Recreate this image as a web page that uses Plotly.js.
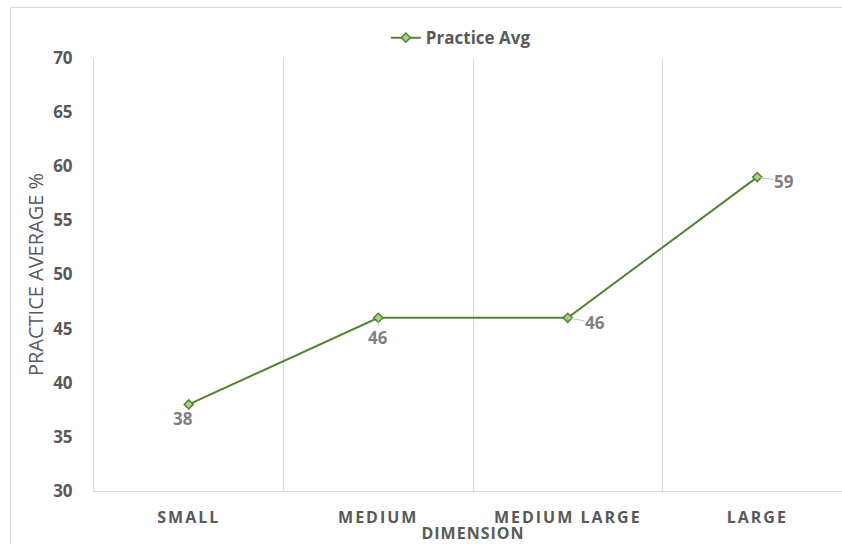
<!DOCTYPE html>
<html>
<head>
<meta charset="utf-8">
<script src="https://cdn.plot.ly/plotly-3.0.1.min.js"></script>
<style>
html,body{margin:0;padding:0;width:842px;height:544px;overflow:hidden;background:#fff;}
#frame{position:absolute;left:10px;top:7px;width:900px;height:600px;border:1px solid #d9d9d9;box-sizing:border-box;}
#chart{position:absolute;left:0;top:0;width:870px;height:544px;}
#chart .xtick text{letter-spacing:2px;}
#chart .g-xtitle text{letter-spacing:1px;}
</style>
</head>
<body>
<div id="frame"></div>
<div id="chart"></div>
<script>
const categories = ['SMALL', 'MEDIUM', 'MEDIUM LARGE', 'LARGE'];
const practiceAvg = [38, 46, 46, 59];
const seriesName = 'Practice Avg';

const trace = {
  x: categories,
  y: practiceAvg,
  name: seriesName,
  type: 'scatter',
  mode: 'lines+markers',
  line: {color: '#548235', width: 2},
  marker: {symbol: 'diamond', size: 7, color: '#a9d18e', line: {color: '#548235', width: 1.5}},
  cliponaxis: false,
  showlegend: true
};

// data label placement (style only): offsets in px
const labelStyle = [
  {ax: -6, ay: 14, arrow: false},
  {ax: 0, ay: 20, arrow: true},
  {ax: 27, ay: 5, arrow: true},
  {ax: 27, ay: 4, arrow: true}
];
const annotations = practiceAvg.map((v, i) => ({
  x: categories[i], y: v, xref: 'x', yref: 'y',
  text: String(v),
  showarrow: labelStyle[i].arrow,
  arrowhead: 0, arrowwidth: 1, arrowcolor: '#bfbfbf', standoff: 3,
  ax: labelStyle[i].ax, ay: labelStyle[i].ay,
  xshift: labelStyle[i].arrow ? 0 : labelStyle[i].ax,
  yshift: labelStyle[i].arrow ? 0 : -labelStyle[i].ay,
  borderpad: 0,
  font: {family: 'Open Sans, sans-serif', size: 17, color: '#7f7f7f', weight: 'bold'}
}));

const layout = {
  width: 870,
  height: 544,
  margin: {l: 94, r: 18, t: 58, b: 53, autoexpand: false},
  paper_bgcolor: 'rgba(0,0,0,0)',
  plot_bgcolor: 'rgba(0,0,0,0)',
  showlegend: true,
  legend: {
    orientation: 'h', x: 0.484, xanchor: 'center', y: 1.046, yanchor: 'middle',
    font: {family: 'Open Sans, sans-serif', size: 17, color: '#595959', weight: 'bold'}
  },
  annotations: annotations,
  xaxis: {
    type: 'category',
    tickson: 'boundaries',
    showgrid: true,
    gridcolor: '#d9d9d9',
    gridwidth: 1,
    showline: true,
    linecolor: '#d9d9d9',
    linewidth: 1,
    ticks: '',
    ticklabelstandoff: 12,
    tickfont: {family: 'Open Sans, sans-serif', size: 16, color: '#595959', weight: 'bold'},
    title: {text: 'DIMENSION', standoff: 4, font: {family: 'Open Sans, sans-serif', size: 16, color: '#595959', weight: 'bold'}},
    range: [-0.5, 3.5],
    fixedrange: true
  },
  yaxis: {
    range: [30, 70],
    dtick: 5,
    tick0: 30,
    showgrid: false,
    zeroline: false,
    showline: true,
    linecolor: '#d9d9d9',
    linewidth: 1,
    ticks: '',
    ticklabelstandoff: 17,
    tickfont: {family: 'Open Sans, sans-serif', size: 17, color: '#595959', weight: 'bold'},
    title: {text: 'PRACTICE AVERAGE %', standoff: 4, font: {family: 'Liberation Sans Narrow, Open Sans, sans-serif', size: 20, color: '#595959'}},
    fixedrange: true
  }
};

Plotly.newPlot('chart', [trace], layout, {displayModeBar: false, staticPlot: true});
</script>
</body>
</html>
